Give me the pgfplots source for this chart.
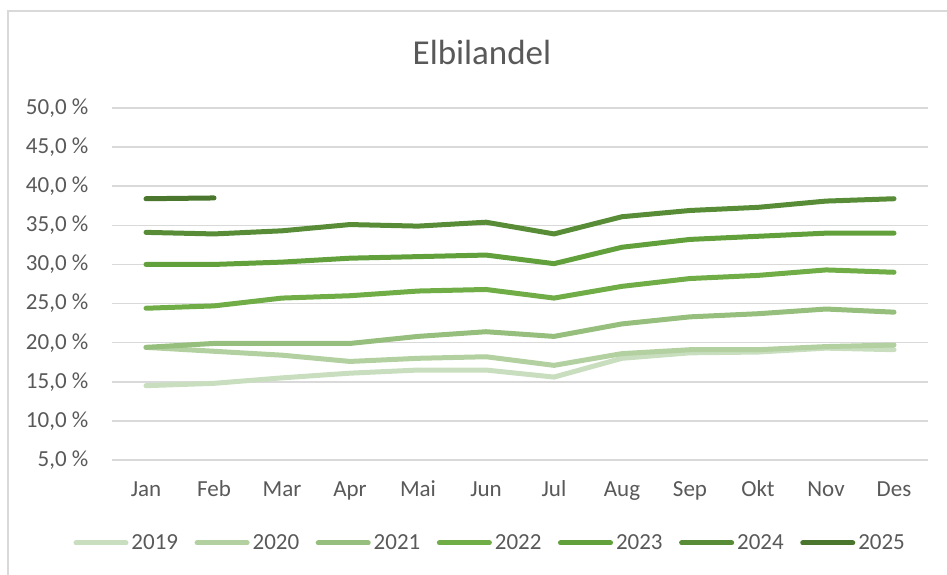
\documentclass[border=0pt]{standalone}
\usepackage{pgfplots}
\pgfplotsset{compat=1.18}
\usepackage{pgfplotstable}
\usepackage{fontspec}
\setmainfont{Carlito}
\definecolor{txt}{HTML}{595959}
\definecolor{grd}{HTML}{D9D9D9}
\definecolor{c19}{HTML}{C8DEBE}
\definecolor{c20}{HTML}{B2D0A0}
\definecolor{c21}{HTML}{96BE7D}
\definecolor{c22}{HTML}{70AD47}
\definecolor{c23}{HTML}{62A03C}
\definecolor{c24}{HTML}{588C37}
\definecolor{c25}{HTML}{4A762E}
\pgfplotstableread{
m y2019 y2020 y2021 y2022 y2023 y2024
1 14.5 19.4 19.4 24.4 30.0 34.1
2 14.8 18.9 19.9 24.7 30.0 33.9
3 15.5 18.4 19.9 25.7 30.3 34.3
4 16.1 17.6 19.9 26.0 30.8 35.1
5 16.5 18.0 20.8 26.6 31.0 34.9
6 16.5 18.2 21.4 26.8 31.2 35.4
7 15.6 17.1 20.8 25.7 30.1 33.9
8 18.0 18.6 22.4 27.2 32.2 36.1
9 18.7 19.1 23.3 28.2 33.2 36.9
10 18.8 19.1 23.7 28.6 33.6 37.3
11 19.3 19.5 24.3 29.3 34.0 38.1
12 19.1 19.7 23.9 29.0 34.0 38.4
}\datatab
\pgfplotstableread{
m y2025
1 38.4
2 38.5
}\datatabb
\begin{document}
\begin{tikzpicture}
\path[use as bounding box] (0bp,0bp) rectangle (947bp,575bp);
\draw[grd, line width=2bp] (8.3bp,0bp) -- (8.3bp,564bp) -- (947bp,564bp);
\node[anchor=base, inner sep=0pt, text=txt, font=\fontsize{35bp}{42bp}\selectfont] at (482bp,510.7bp) {Elbilandel};
\begin{axis}[
  at={(112bp,115bp)}, anchor=south west,
  scale only axis, width=816bp, height=352bp,
  xmin=0.5, xmax=12.5, ymin=5, ymax=50,
  xtick={1,...,12},
  xticklabels={Jan,Feb,Mar,Apr,Mai,Jun,Jul,Aug,Sep,Okt,Nov,Des},
  ytick={5,10,...,50},
  /pgf/number format/assume math mode=true,
  yticklabel={\pgfmathprintnumber[fixed,fixed zerofill,precision=1,use comma]{\tick}~\%},
  axis line style={draw=none},
  major tick length=0pt,
  ymajorgrids, xmajorgrids=false,
  major grid style={grd, line width=1.5bp},
  tick label style={text=txt, font=\fontsize{23bp}{27bp}\selectfont, inner sep=0pt},
  yticklabel style={anchor=east, xshift=-23.5bp},
  xticklabel style={anchor=base, yshift=-37bp},
  clip=false,
  legend columns=7,
  legend cell align=left,
  legend style={at={(axis description cs:-0.0472,-0.2358)}, anchor=west,
    draw=none, fill=none, inner sep=0pt, outer sep=0pt,
    font=\fontsize{23bp}{27bp}\selectfont, text=txt,
    nodes={inner sep=0pt},
    /tikz/every odd column/.append style={column sep=3bp},
    /tikz/every even column/.append style={column sep=16.5bp}},
  legend image code/.code={\draw[#1] (0bp,0bp) -- (50bp,0bp);},
  every axis plot/.append style={line width=5bp, line cap=round, line join=round, no markers},
]
\addplot[c19] table[x=m, y=y2019] {\datatab};
\addlegendentry{2019}
\addplot[c20] table[x=m, y=y2020] {\datatab};
\addlegendentry{2020}
\addplot[c21] table[x=m, y=y2021] {\datatab};
\addlegendentry{2021}
\addplot[c22] table[x=m, y=y2022] {\datatab};
\addlegendentry{2022}
\addplot[c23] table[x=m, y=y2023] {\datatab};
\addlegendentry{2023}
\addplot[c24] table[x=m, y=y2024] {\datatab};
\addlegendentry{2024}
\addplot[c25] table[x=m, y=y2025] {\datatabb};
\addlegendentry{2025}
\end{axis}
\end{tikzpicture}
\end{document}
